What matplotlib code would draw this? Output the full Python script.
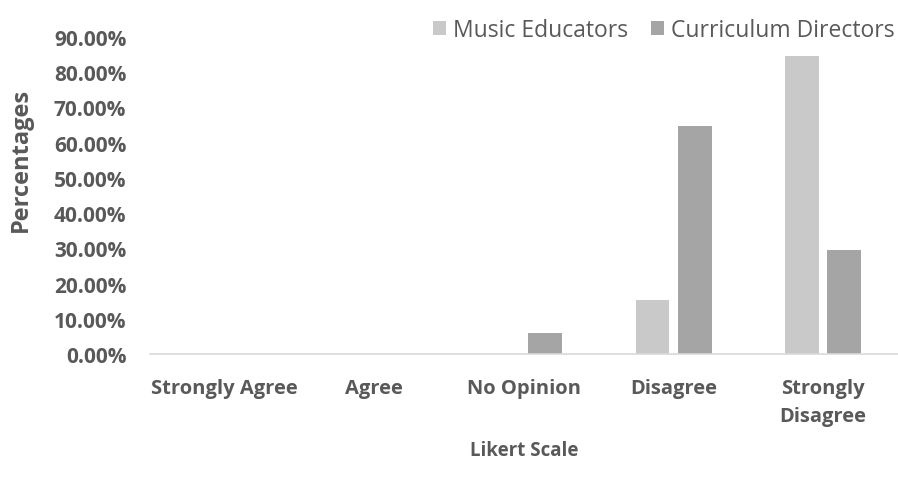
import matplotlib.pyplot as plt
import numpy as np
from matplotlib.ticker import PercentFormatter

categories = ["Strongly Agree", "Agree", "No Opinion", "Disagree", "Strongly\nDisagree"]
music_educators = [0.0, 0.0, 0.0, 15.38, 84.62]
curriculum_directors = [0.0, 0.0, 5.88, 64.71, 29.41]
yticks = [0, 10, 20, 30, 40, 50, 60, 70, 80, 90]

plt.rcParams['font.family'] = ['Open Sans', 'DejaVu Sans']
text_col = '#595959'

fig = plt.figure(figsize=(8.98, 4.85), dpi=100)
ax = fig.add_axes([0.167, 0.268, 0.833, 0.654])

x = np.arange(len(categories))
w = 0.225
gap = 0.057
ax.bar(x - (w + gap) / 2, music_educators, w, color='#c9c9c9', label='Music Educators')
ax.bar(x + (w + gap) / 2, curriculum_directors, w, color='#a5a5a5', label='Curriculum Directors')

ax.set_xlim(-0.5, len(categories) - 0.5)
ax.set_ylim(0, 90)
ax.set_yticks(yticks)
ax.yaxis.set_major_formatter(PercentFormatter(decimals=2))
ax.set_xticks(x)
ax.set_xticklabels(categories)

for s in ['top', 'right', 'left']:
    ax.spines[s].set_visible(False)
ax.spines['bottom'].set_color('#d9d9d9')
ax.spines['bottom'].set_linewidth(1.2)
ax.tick_params(length=0)
ax.tick_params(axis='y', pad=17)
ax.tick_params(axis='x', pad=17)
for lbl in ax.get_yticklabels() + ax.get_xticklabels():
    lbl.set_fontweight('bold')
    lbl.set_color(text_col)
for lbl in ax.get_yticklabels():
    lbl.set_fontsize(15)
for lbl in ax.get_xticklabels():
    lbl.set_fontsize(14.5)
    lbl.set_linespacing(1.55)

ax.set_ylabel('Percentages', fontsize=17, fontweight='bold', color=text_col)
ax.yaxis.set_label_coords(-0.157, 0.615)
fig.text(0.584, 0.07, 'Likert Scale', ha='center', va='center', fontsize=13.5,
         fontweight='bold', color=text_col)

leg = ax.legend(loc='center right', bbox_to_anchor=(0.996, 1.02), ncol=2, frameon=False,
                fontsize=16.5, handlelength=0.55, handleheight=0.55, handletextpad=0.33,
                columnspacing=1.0, borderpad=0, borderaxespad=0)
for t in leg.get_texts():
    t.set_color(text_col)

fig.savefig('out.png', dpi=100)
